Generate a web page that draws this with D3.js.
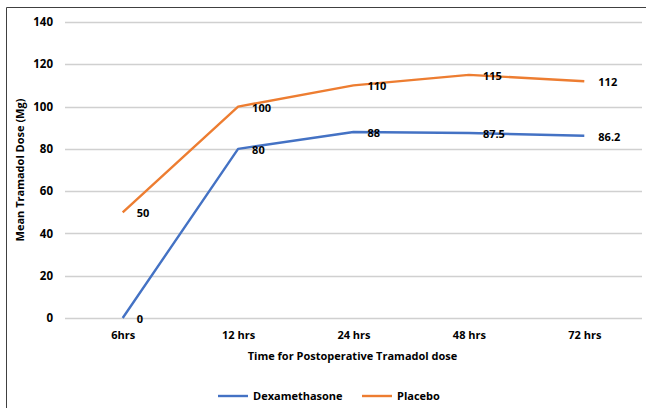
<!DOCTYPE html>
<html>
<head>
<meta charset="utf-8">
<script src="https://cdn.jsdelivr.net/npm/d3@7"></script>
<style>
  html, body { margin: 0; padding: 0; background: #fff; }
  svg { display: block; }
  text { font-family: "Open Sans", "Liberation Sans", sans-serif; font-weight: bold; fill: #000; }
</style>
</head>
<body>
<svg id="chart" width="646" height="408"></svg>
<script>
// Time points after surgery
const timepoints = ["6hrs", "12 hrs", "24 hrs", "48 hrs", "72 hrs"];
// Mean tramadol dose (mg) per group
const dexamethasone = [0, 80, 88, 87.5, 86.2];
const placebo = [50, 100, 110, 115, 112];
const yTicks = [0, 20, 40, 60, 80, 100, 120, 140];

const series = [
  { name: "Dexamethasone", values: dexamethasone, color: "#4472C4" },
  { name: "Placebo", values: placebo, color: "#ED7D31" }
];

const svg = d3.select("#chart");
const W = 646, H = 408;
const m = { left: 65, right: 4, top: 22, bottom: 90 };

// Outer frame (left and top edges visible)
svg.append("path")
  .attr("d", `M6.5,${H} V7.5 H${W}`)
  .attr("fill", "none").attr("stroke", "#404040").attr("stroke-width", 1);

const x = d3.scalePoint().domain(timepoints)
  .range([m.left, W - m.right]).padding(0.5);
const y = d3.scaleLinear().domain([0, 140]).range([H - m.bottom, m.top]);

// Horizontal gridlines
svg.append("g")
  .selectAll("line").data(yTicks).join("line")
  .attr("x1", m.left).attr("x2", W - m.right)
  .attr("y1", d => Math.round(y(d)) + 0.5).attr("y2", d => Math.round(y(d)) + 0.5)
  .attr("stroke", "#d0d0d0").attr("stroke-width", 1.3);

// Y axis labels
const yAxis = svg.append("g")
  .attr("transform", `translate(${m.left - 12},0)`)
  .call(d3.axisLeft(y).tickValues(yTicks).tickSize(0).tickPadding(0));
yAxis.select(".domain").remove();
yAxis.selectAll("text").attr("font-size", 11.5).attr("font-family", null);

// X axis labels
const xAxis = svg.append("g")
  .attr("transform", `translate(0,${H - m.bottom})`)
  .call(d3.axisBottom(x).tickSize(0).tickPadding(13));
xAxis.select(".domain").remove();
xAxis.selectAll("text").attr("font-size", 11).attr("font-family", null);

// Axis titles
svg.append("text")
  .attr("x", (m.left + W - m.right) / 2 - 1).attr("y", 360)
  .attr("text-anchor", "middle").attr("font-size", 11)
  .text("Time for Postoperative Tramadol dose");
svg.append("text")
  .attr("transform", `translate(24,${(m.top + H - m.bottom) / 2}) rotate(-90)`)
  .attr("text-anchor", "middle").attr("font-size", 11)
  .text("Mean Tramadol Dose (Mg)");

// Lines
const line = d3.line().x((d, i) => x(timepoints[i])).y(d => y(d));
series.forEach(s => {
  svg.append("path")
    .datum(s.values)
    .attr("d", line)
    .attr("fill", "none")
    .attr("stroke", s.color)
    .attr("stroke-width", 2.4)
    .attr("stroke-linejoin", "round");
});

// Value labels
series.forEach(s => {
  svg.append("g")
    .selectAll("text").data(s.values).join("text")
    .attr("x", (d, i) => x(timepoints[i]) + 14)
    .attr("y", d => y(d) + 5)
    .attr("font-size", 11)
    .text(d => d);
});

// Legend
const legend = svg.append("g").attr("transform", "translate(218,396)");
const legendX = [0, 144];
series.forEach((s, i) => {
  const g = legend.append("g").attr("transform", `translate(${legendX[i]},0)`);
  g.append("line").attr("x1", 0).attr("x2", 30).attr("y1", 0).attr("y2", 0)
    .attr("stroke", s.color).attr("stroke-width", 2.4);
  g.append("text").attr("x", 35).attr("y", 4).attr("font-size", 11).text(s.name);
});
</script>
</body>
</html>
